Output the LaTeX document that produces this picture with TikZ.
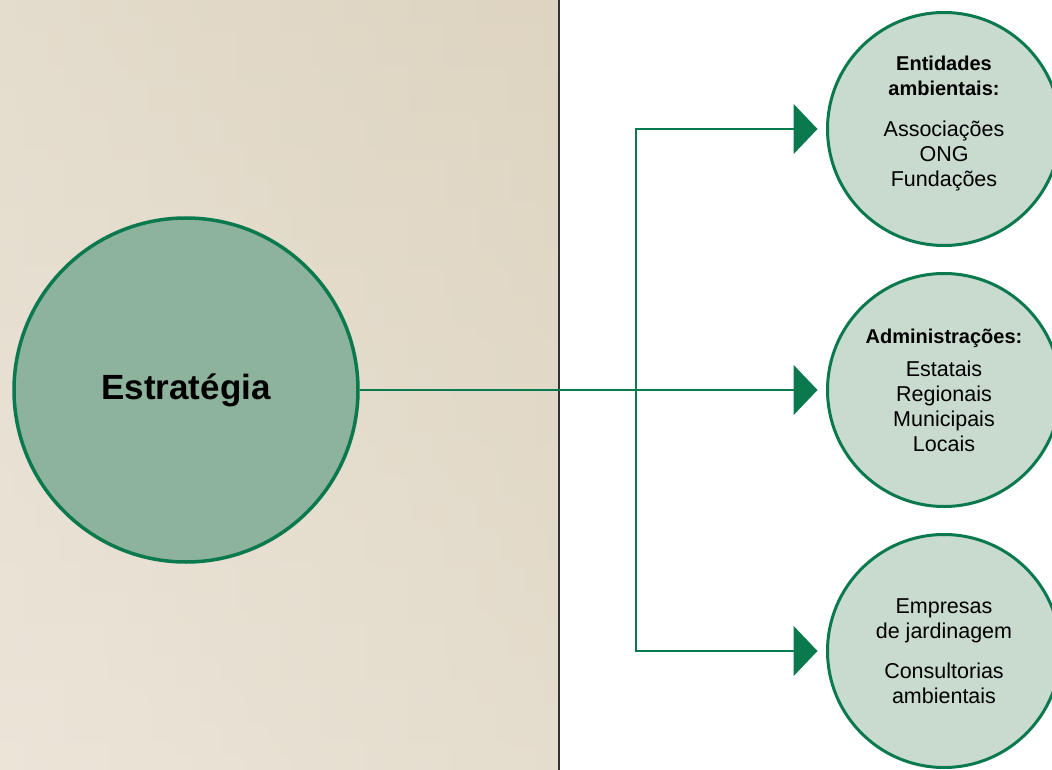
\documentclass[tikz,border=0pt]{standalone}
\usepackage{fontspec}
\setmainfont{Liberation Sans}
\usetikzlibrary{arrows.meta,positioning}
\definecolor{deepgreen}{HTML}{0A7A4E}
\definecolor{sage}{HTML}{8DB39C}
\definecolor{palesage}{HTML}{C9DACF}
\definecolor{sandlight}{HTML}{EBE5D9}
\definecolor{sanddark}{HTML}{DED4C1}

\begin{document}
\begin{tikzpicture}[x=1pt, y=-1pt,
    core/.style={draw=deepgreen, line width=3.5pt, circle, fill=sage, minimum size=344pt, font=\fontsize{35}{40}\selectfont\bfseries},
    group/.style={draw=deepgreen, line width=3pt, circle, fill=palesage, minimum size=233pt, align=center, font=\fontsize{21.5}{25}\selectfont},
    link/.style={draw=deepgreen, line width=2pt, -{Triangle[length=24pt,width=50pt]}, shorten >=8.5pt}]
        \useasboundingbox (0,0) rectangle (1052,770);
        \shade[left color=sandlight, right color=sanddark] (0,0) rectangle (558,770);
        \shade[top color=sanddark, bottom color=sandlight, opacity=0.5] (0,0) rectangle (558,770);
        \draw[line width=1.2pt, black!80] (559,0) -- (559,770);
        \node[core] (strat) at (186,390) {Estratégia};
        \node[group] (adm) at (944,390) {{\fontsize{20}{25}\selectfont\bfseries Administrações:}\\[8pt]Estatais\\Regionais\\Municipais\\Locais};
        \node[group, above=25pt of adm, text depth=16pt] (ent) {{\fontsize{20}{25}\selectfont\bfseries Entidades}\\{\fontsize{20}{25}\selectfont\bfseries ambientais:}\\[16pt]Associações\\ONG\\Fundações};
        \node[group, below=25pt of adm] (emp) {Empresas\\de jardinagem\\[15pt]Consultorias\\ambientais};
        \coordinate (junc) at (636,390);
        \draw[link] (strat) -- (adm);
        \draw[link] (junc) |- (ent);
        \draw[link] (junc) |- (emp);
      \end{tikzpicture}
\end{document}
